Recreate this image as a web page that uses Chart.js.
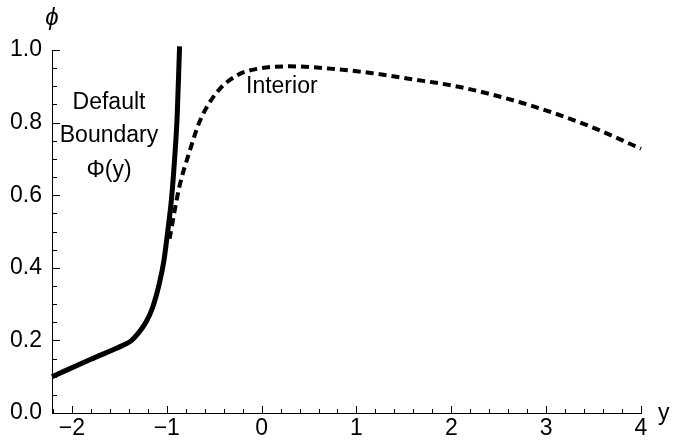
<!DOCTYPE html>
<html>
<head>
<meta charset="utf-8">
<script src="https://cdn.jsdelivr.net/npm/chart.js@4/dist/chart.umd.min.js"></script>
<style>
  html, body { margin: 0; padding: 0; background: #fff; }
  #wrap { width: 673px; height: 444px; }
</style>
</head>
<body>
<div id="wrap"><canvas id="chartPhi"></canvas></div>
<script>
// default boundary Phi(y), solid
const boundaryX = [-2.21, -1.8, -1.45, -1.38, -1.30, -1.22, -1.15, -1.08, -1.03, -0.99, -0.95, -0.92, -0.89, -0.865];
const boundaryY = [0.100, 0.148, 0.188, 0.198, 0.220, 0.250, 0.290, 0.355, 0.420, 0.500, 0.590, 0.690, 0.820, 1.010];

// interior solution, dashed
const interiorX = [-0.97, -0.87, -0.76, -0.65, -0.47, -0.26, -0.05, 0.3, 0.75, 1.17, 1.55, 2.09, 2.75, 3.43, 4.0];
const interiorY = [0.480, 0.620, 0.720, 0.805, 0.884, 0.930, 0.948, 0.955, 0.948, 0.936, 0.921, 0.898, 0.854, 0.793, 0.728];

const xTickValues = [-2, -1, 0, 1, 2, 3, 4];
const yTickValues = [0, 0.2, 0.4, 0.6, 0.8, 1.0];

const FONT = "'Liberation Sans', Arial, sans-serif";

const toPoints = (xs, ys) => xs.map((x, i) => ({ x: x, y: ys[i] }));

// inward ticks (major + minor) and the text labels
const decor = {
  id: 'decor',
  afterDraw(chart) {
    const c = chart.ctx;
    const xs = chart.scales.x, ys = chart.scales.y;
    const area = chart.chartArea;
    c.save();
    c.strokeStyle = '#000';
    c.lineWidth = 1;
    c.beginPath();
    for (let i = -11; i <= 20; i++) {
      const v = i / 5;
      if (v < xs.min - 1e-9) continue;
      const px = Math.round(xs.getPixelForValue(v)) + 0.5;
      const len = (i % 5 === 0) ? 7 : 4;
      c.moveTo(px, area.bottom);
      c.lineTo(px, area.bottom - len);
    }
    for (let i = 0; i <= 20; i++) {
      const py = Math.round(ys.getPixelForValue(i / 20)) + 0.5;
      const len = (i % 4 === 0) ? 8 : 5;
      c.moveTo(area.left, py);
      c.lineTo(area.left + len, py);
    }
    c.stroke();

    c.fillStyle = '#000';
    c.textAlign = 'center';
    c.textBaseline = 'alphabetic';
    c.font = '23px ' + FONT;
    c.fillText('Default', 109, 109);
    c.fillText('Boundary', 109, 142);
    c.fillText('\u03A6(y)', 109, 177);
    c.textAlign = 'left';
    c.fillText('Interior', 246, 93);
    c.fillText('y', 658, 420);
    c.textAlign = 'center';
    c.font = 'italic 24px ' + FONT;
    c.fillText('\u03D5', 52, 25);
    c.restore();
  }
};

new Chart(document.getElementById('chartPhi'), {
  type: 'scatter',
  data: {
    datasets: [{
      label: 'Default Boundary',
      data: toPoints(boundaryX, boundaryY),
      showLine: true,
      borderColor: '#000',
      borderWidth: 5,
      pointRadius: 0,
      cubicInterpolationMode: 'monotone',
      clip: false
    }, {
      label: 'Interior',
      data: toPoints(interiorX, interiorY),
      showLine: true,
      borderColor: '#000',
      borderWidth: 4,
      borderDash: [8, 5],
      pointRadius: 0,
      cubicInterpolationMode: 'monotone',
      clip: false
    }]
  },
  plugins: [decor],
  options: {
    responsive: true,
    maintainAspectRatio: false,
    animation: false,
    layout: { padding: { top: 50, right: 32, left: 0, bottom: 0 } },
    plugins: {
      legend: { display: false },
      tooltip: { enabled: false }
    },
    scales: {
      x: {
        type: 'linear',
        min: -2.21,
        max: 4,
        afterBuildTicks: s => { s.ticks = xTickValues.map(v => ({ value: v })); },
        afterFit: s => { s.height = 31; },
        grid: { drawOnChartArea: false, drawTicks: false },
        border: { display: true, color: '#000', width: 1 },
        ticks: {
          color: '#000',
          padding: 2,
          maxRotation: 0,
          font: { size: 23, family: FONT },
          callback: v => String(v).replace('-', '\u2212')
        }
      },
      y: {
        type: 'linear',
        min: 0,
        max: 1,
        afterBuildTicks: s => { s.ticks = yTickValues.map(v => ({ value: v })); },
        afterFit: s => { s.width = 52; },
        grid: { drawOnChartArea: false, drawTicks: false },
        border: { display: true, color: '#000', width: 1 },
        ticks: {
          color: '#000',
          padding: 10,
          font: { size: 23, family: FONT },
          callback: v => Number(v).toFixed(1)
        }
      }
    }
  }
});
</script>
</body>
</html>
